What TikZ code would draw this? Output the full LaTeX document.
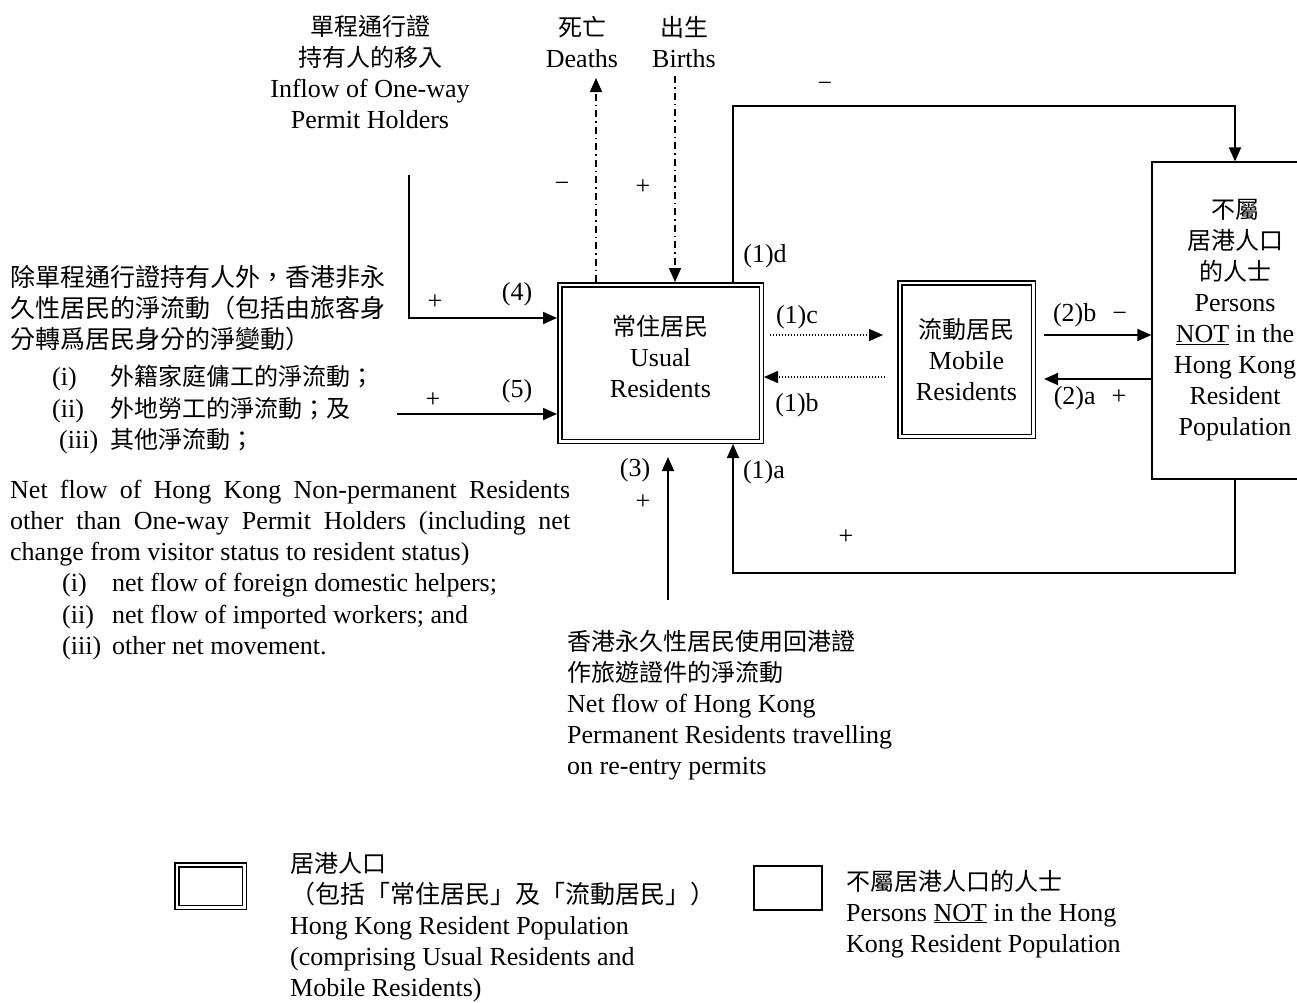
\documentclass[tikz,border=0pt]{standalone}
\usepackage{fontspec}
\setmainfont{Liberation Serif}
\newfontfamily\cjkfont{Noto Sans CJK TC}
\newcommand{\zh}[2][24]{{\cjkfont\fontsize{#1}{31}\selectfont #2}}
\usetikzlibrary{arrows.meta}

\begin{document}
\begin{tikzpicture}[x=1pt, y=-1pt, font=\fontsize{26}{31}\selectfont,
  dbox/.style={draw, double, line width=1.5pt, double distance=2.5pt, outer sep=2.75pt, inner sep=0pt, align=center},
  sbox/.style={draw, line width=1.2pt, inner sep=0pt, align=center},
  flow/.style={line width=1.8pt, -{Triangle[length=14pt, width=12pt]}},
  dotflow/.style={flow, line width=1.4pt, dash pattern=on 1.4pt off 1.6pt},
  dashflow/.style={flow, line width=1.5pt, dash pattern=on 7pt off 4pt on 1.5pt off 4pt},
  txt/.style={inner sep=0pt, anchor=base west, align=left},
  lbl/.style={inner sep=0pt}]
  \useasboundingbox (0,0) rectangle (1297,1002);

  % the three populations
  \node[dbox, minimum width=201.5pt, minimum height=156.5pt] (usual) at (660.5,363) {};
  \node[align=center, inner sep=0pt] (usualtxt) at (660.5,356) {\zh{常住居民}\\Usual\\Residents};
  \node[dbox, minimum width=133.5pt, minimum height=153.5pt] (mobile) at (966.5,359.5) {\zh{流動居民}\\Mobile\\Residents};
  \node[sbox, minimum width=166pt, minimum height=317pt] (notpr) at (1235,320.5) {\zh{不屬}\\\zh{居港人口}\\\zh{的人士}\\Persons\\\underline{NOT} in the\\Hong Kong\\Resident\\Population};

  % sources and sinks (base = last line)
  \node[anchor=base, align=center, inner sep=0pt] (owp) at (370,128) {\zh{單程通行證}\\\zh{持有人的移入}\\Inflow of One-way\\Permit Holders};
  \node[anchor=base, align=center, inner sep=0pt] (deaths) at (582,67) {\zh{死亡}\\Deaths};
  \node[anchor=base, align=center, inner sep=0pt] (births) at (684,67) {\zh{出生}\\Births};

  \node[txt] (npzh) at (10,348) {\zh[25]{除單程通行證持有人外，香港非永}\\\zh[25]{久性居民的淨流動（包括由旅客身}\\\zh[25]{分轉爲居民身分的淨變動）}};
  \node[txt] (npzh1) at (52,385) {\makebox[58pt][l]{(i)}\zh{外籍家庭傭工的淨流動；}};
  \node[txt] (npzh2) at (52,417) {\makebox[58pt][l]{(ii)}\zh{外地勞工的淨流動；及}};
  \node[txt] (npzh3) at (59,448) {\makebox[51pt][l]{(iii)}\zh{其他淨流動；}};

  \node[txt, text width=560pt, align=justify] (npen) at (10,498) {Net flow of Hong Kong Non-permanent Residents\linebreak other than One-way Permit Holders (including net\linebreak change from visitor status to resident status)};
  \node[txt] (npen1) at (62,591) {\makebox[50pt][l]{(i)}net flow of foreign domestic helpers;};
  \node[txt] (npen2) at (62,623) {\makebox[50pt][l]{(ii)}net flow of imported workers; and};
  \node[txt] (npen3) at (62,654) {\makebox[50pt][l]{(iii)}other net movement.};

  \node[txt] (rep) at (567,774) {\zh{香港永久性居民使用回港證}\\\zh{作旅遊證件的淨流動}\\Net flow of Hong Kong\\Permanent Residents travelling\\on re-entry permits};

  % flows
  \coordinate (topleft) at (733,106);
  \coordinate (botleft) at (733,573);
  \coordinate (dtip) at (596,78);
  \coordinate (btop) at (675,76);
  \coordinate (in4) at (409,175);
  \coordinate (in5) at (397,414);
  \coordinate (in3) at (668,600);
  \coordinate (tip3) at (668,457);

  \draw[flow] (usual.north -| topleft) -- (topleft) -| (notpr.north);
  \draw[flow] (notpr.south) |- (botleft) -- (usual.south -| botleft);
  \draw[dotflow] ([shift={(6,-28)}]usual.east) -- ([shift={(-14,-24.5)}]mobile.west);
  \draw[dotflow] ([shift={(-12,17.5)}]mobile.west) -- ([shift={(0,14)}]usual.east);
  \draw[flow] ([shift={(8,-24.5)}]mobile.east) -- ([shift={(0,14.5)}]notpr.west);
  \draw[flow] ([shift={(0,58.5)}]notpr.west) -- ([shift={(8,19.5)}]mobile.east);
  \draw[dashflow] (usual.north -| dtip) -- (dtip);
  \draw[dashflow] (btop) -- (usual.north -| btop);
  \draw[flow] (in4) |- ([shift={(0,-45)}]usual.west);
  \draw[flow] (in5) -- (usual.west |- in5);
  \draw[flow] (in3) -- (tip3);

  \node[lbl] (l1d) at (765,256) {(1)d};
  \node[lbl] (l1c) at (797,317) {(1)c};
  \node[lbl] (l1b) at (797,405) {(1)b};
  \node[lbl] (l1a) at (764,472) {(1)a};
  \node[lbl] (l2b) at (1090,315) {(2)b\hspace{16pt}−};
  \node[lbl] (l2a) at (1090,398) {(2)a\hspace{16pt}+};
  \node[lbl] (l3) at (635,470) {(3)};
  \node[lbl] (p3) at (643,502) {+};
  \node[lbl] (l4) at (517,294) {(4)};
  \node[lbl] (p4) at (435,302) {+};
  \node[lbl] (l5) at (517,391) {(5)};
  \node[lbl] (p5) at (433,400) {+};
  \node[lbl] (mdeath) at (562,187) {−};
  \node[lbl] (pbirth) at (643,187) {+};
  \node[lbl] (m1d) at (825,87) {−};
  \node[lbl] (p1a) at (846,537) {+};

  % key
  \node[dbox, minimum width=67.5pt, minimum height=42.5pt] (keyhk) at (210.5,886) {};
  \node[txt] (keyhktxt) at (290,996) {\zh{居港人口}\\\zh[25]{（包括「常住居民」及「流動居民」）}\\Hong Kong Resident Population\\(comprising Usual Residents and\\Mobile Residents)};
  \node[sbox, minimum width=68pt, minimum height=44pt] (keynot) at (788,888) {};
  \node[txt] (keynottxt) at (846,952) {\zh{不屬居港人口的人士}\\Persons \underline{NOT} in the Hong\\Kong Resident Population};
\end{tikzpicture}
\end{document}
